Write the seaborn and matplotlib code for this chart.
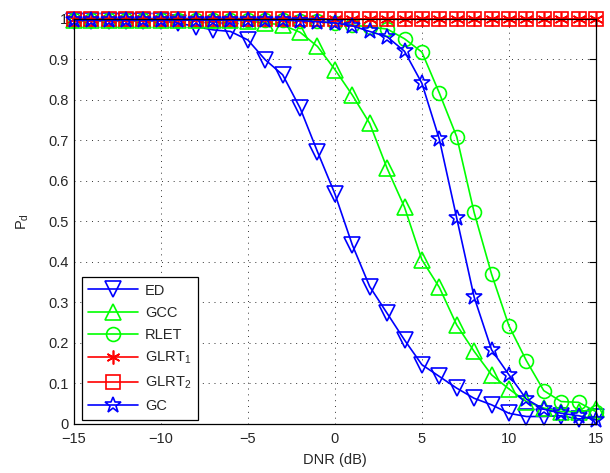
import matplotlib
matplotlib.use('Agg')
import matplotlib.pyplot as plt
import seaborn as sns
import pandas as pd

# DNR axis values (dB)
dnr = [-15, -14, -13, -12, -11, -10, -9, -8, -7, -6, -5, -4, -3, -2, -1, 0,
       1, 2, 3, 4, 5, 6, 7, 8, 9, 10, 11, 12, 13, 14, 15]

# detection probability per detector
pd_ed = [0.995, 0.995, 0.995, 0.995, 0.995, 0.995, 0.99, 0.981, 0.973, 0.969, 0.948,
         0.899, 0.862, 0.78, 0.672, 0.568, 0.442, 0.339, 0.273, 0.207, 0.146,
         0.117, 0.088, 0.063, 0.047, 0.026, 0.018, 0.018, 0.02, 0.012, 0.016]
pd_gcc = [0.998, 0.998, 0.998, 0.998, 0.998, 0.998, 0.998, 0.998, 0.998, 0.997, 0.995,
          0.99, 0.985, 0.967, 0.932, 0.875, 0.812, 0.742, 0.631, 0.535, 0.405,
          0.337, 0.244, 0.179, 0.121, 0.086, 0.055, 0.039, 0.03, 0.03, 0.036]
pd_rlet = [0.997, 0.997, 0.997, 0.997, 0.997, 0.997, 0.997, 0.997, 0.997, 0.997, 0.997,
           0.997, 0.997, 0.996, 0.994, 0.99, 0.985, 0.98, 0.975, 0.951, 0.918,
           0.817, 0.709, 0.522, 0.37, 0.242, 0.156, 0.082, 0.055, 0.053, 0.03]
pd_glrt1 = [1.0, 1.0, 1.0, 1.0, 1.0, 1.0, 1.0, 1.0, 1.0, 1.0, 1.0,
            1.0, 1.0, 1.0, 1.0, 1.0, 1.0, 1.0, 1.0, 1.0, 1.0,
            1.0, 1.0, 1.0, 1.0, 1.0, 1.0, 1.0, 1.0, 1.0, 1.0]
pd_glrt2 = [1.0, 1.0, 1.0, 1.0, 1.0, 1.0, 1.0, 1.0, 1.0, 1.0, 1.0,
            1.0, 1.0, 1.0, 1.0, 1.0, 1.0, 1.0, 1.0, 1.0, 1.0,
            1.0, 1.0, 1.0, 1.0, 1.0, 1.0, 1.0, 1.0, 1.0, 1.0]
pd_gc = [0.997, 0.997, 0.997, 0.997, 0.997, 0.997, 0.997, 0.997, 0.997, 0.997, 0.997,
         0.997, 0.997, 0.996, 0.993, 0.99, 0.983, 0.969, 0.956, 0.92, 0.841,
         0.703, 0.508, 0.313, 0.183, 0.121, 0.061, 0.036, 0.026, 0.02, 0.01]

labels = ['ED', 'GCC', 'RLET', 'GLRT$_1$', 'GLRT$_2$', 'GC']
series = [pd_ed, pd_gcc, pd_rlet, pd_glrt1, pd_glrt2, pd_gc]
colors = ['#0000ff', '#00ff00', '#00ff00', '#ff0000', '#ff0000', '#0000ff']
markers = ['v', '^', 'o', (6, 2, 0), 's', '*']
msizes = [11, 11, 10, 10, 10, 12]

sns.set_theme(style='white')
plt.rcParams['font.family'] = ['Liberation Sans', 'DejaVu Sans']
plt.rcParams['mathtext.default'] = 'regular'
plt.rcParams['xtick.direction'] = 'in'
plt.rcParams['ytick.direction'] = 'in'

fig = plt.figure(figsize=(6.1, 4.73), dpi=100)
ax = fig.add_axes([0.121, 0.104, 0.856, 0.856])

for lab, vals, c, m, ms in zip(labels, series, colors, markers, msizes):
    df = pd.DataFrame({'DNR': dnr, 'Pd': vals})
    sns.lineplot(data=df, x='DNR', y='Pd', ax=ax, color=c, marker=m, markersize=ms,
                 markerfacecolor='none', markeredgecolor=c, markeredgewidth=1.2,
                 linewidth=1.2, label=lab, clip_on=False)

ax.set_xlim(-15, 15)
ax.set_ylim(0, 1)
ax.set_xticks(range(-15, 16, 5))
ax.set_yticks([i / 10 for i in range(11)])
ax.set_yticklabels(['0', '0.1', '0.2', '0.3', '0.4', '0.5', '0.6', '0.7', '0.8', '0.9', '1'])
ax.tick_params(labelsize=10.5, length=5, width=0.8, top=True, right=True, color='black')
ax.tick_params(axis='x', pad=6)
ax.tick_params(axis='y', pad=4)
ax.grid(True, linestyle=(0, (1, 5)), color='0.2', linewidth=0.7)
for s in ax.spines.values():
    s.set_color('black')
    s.set_linewidth(0.9)

ax.set_xlabel('DNR (dB)', fontsize=10.5, labelpad=5)
ax.set_ylabel('P$_d$', fontsize=10.5, labelpad=12)

leg = ax.legend(loc='lower left', bbox_to_anchor=(0.015, 0.01), borderaxespad=0,
                fontsize=10.5, fancybox=False, framealpha=1, edgecolor='black',
                handlelength=3.4, labelspacing=0.56, borderpad=0.45, handletextpad=0.5)
leg.get_frame().set_linewidth(0.9)

fig.savefig('out.png', dpi=100)
